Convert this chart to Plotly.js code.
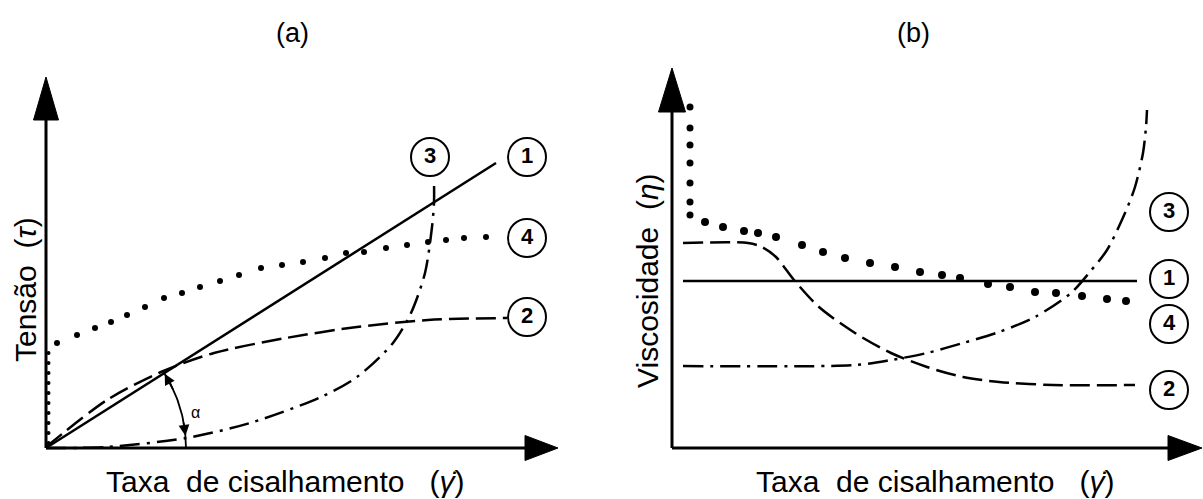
<!DOCTYPE html>
<html>
<head>
<meta charset="utf-8">
<script src="https://cdn.plot.ly/plotly-3.0.1.min.js"></script>
<style>html,body{margin:0;padding:0;background:#fff;}#chart{width:1203px;height:499px;}</style>
</head>
<body>
<div id="chart"></div>
<script>
// ---------- DATA (abstract units) ----------
// Panel (a): shear stress vs shear rate
const a1_x = [0, 9.0];
const a1_y = [0, 5.7];
const a2_x = [0, 1.22, 2.30, 3.36, 4.80, 6.22, 7.64, 9.22];
const a2_y = [0.02, 0.96, 1.52, 1.90, 2.20, 2.42, 2.56, 2.60];
const a3_x = [0, 1.22, 2.80, 4.08, 5.50, 6.22, 6.94, 7.30, 7.58, 7.72, 7.76, 7.76];
const a3_y = [0, 0.02, 0.20, 0.50, 1.02, 1.42, 2.10, 2.70, 3.50, 4.42, 4.90, 5.36];
const a4v_x = [0.05, 0.05, 0.05, 0.05, 0.05, 0.05, 0.05, 0.05, 0.05, 0.05];
const a4v_y = [0.1, 0.3, 0.5, 0.7, 0.9, 1.1, 1.3, 1.5, 1.7, 1.9];
const a4_x = [0.22, 0.62, 0.98, 1.30, 1.62, 1.98, 2.36, 2.72, 3.08, 3.48, 3.86, 4.30, 4.72, 5.14, 5.58, 6.00, 6.36, 6.80, 7.22, 7.64, 8.00, 8.36, 8.80];
const a4_y = [2.10, 2.26, 2.40, 2.52, 2.66, 2.82, 3.00, 3.10, 3.22, 3.34, 3.46, 3.60, 3.66, 3.72, 3.80, 3.90, 3.92, 4.00, 4.06, 4.12, 4.16, 4.20, 4.22];
const a_labels = ["3", "1", "4", "2"];
const a_lab_x = [7.68, 9.62, 9.62, 9.62];
const a_lab_y = [5.82, 5.82, 4.20, 2.62];

// Panel (b): viscosity vs shear rate
const b1_x = [0.22, 9.30];
const b1_y = [3.34, 3.34];
const b2_x = [0.22, 1.52, 1.80, 2.08, 2.44, 2.94, 3.66, 4.38, 5.10, 5.82, 6.54, 7.62, 9.26];
const b2_y = [4.10, 4.10, 4.02, 3.82, 3.36, 2.82, 2.30, 1.90, 1.62, 1.42, 1.32, 1.26, 1.26];
const b3_x = [0.22, 3.66, 4.38, 5.10, 5.82, 6.54, 7.26, 7.98, 8.34, 8.70, 9.06, 9.26, 9.42, 9.48, 9.50];
const b3_y = [1.64, 1.66, 1.76, 1.90, 2.10, 2.32, 2.62, 3.10, 3.50, 3.96, 4.70, 5.22, 5.90, 6.42, 6.76];
const b4v_x = [0.36, 0.36, 0.36, 0.36, 0.36, 0.36, 0.36];
const b4v_y = [6.82, 6.40, 6.06, 5.70, 5.30, 4.92, 4.66];
const b4_x = [0.66, 1.02, 1.44, 1.72, 2.08, 2.60, 3.02, 3.46, 3.96, 4.46, 4.96, 5.40, 5.76, 6.32, 6.76, 7.26, 7.68, 8.20, 8.70, 9.08];
const b4_y = [4.52, 4.42, 4.34, 4.30, 4.22, 4.06, 3.92, 3.80, 3.70, 3.62, 3.52, 3.46, 3.40, 3.28, 3.22, 3.12, 3.10, 3.04, 2.98, 2.94];
const b_labels = ["3", "1", "4", "2"];
const b_lab_x = [9.94, 9.94, 9.94, 9.94];
const b_lab_y = [4.72, 3.38, 2.48, 1.16];

const titles = ["(a)", "(b)"];
const xTitle = "Taxa  de cisalhamento   (<i>γ̇</i>)";
const yTitleA = "Tensão  (<i>τ</i>)";
const yTitleB = "Viscosidade  (<i>η</i>)";
const alphaLabel = "α";

// ---------- GEOMETRY / STYLE ----------
const W = 1203, H = 499, PX = 50;
const originA = 46, originB = 672, originY = 448, split = 600;
const FONT = "Liberation Sans, Arial, sans-serif";
const BLACK = "#000";
const dashLong = "20px,7px";
const dashDot = "20px,7px,3px,7px";

function line(x, y, xa, dash, w) {
  return {x, y, xaxis: xa, yaxis: "y", type: "scatter", mode: "lines",
    line: {color: BLACK, width: w || 2.5, dash: dash || "solid", shape: "spline", smoothing: 0.8},
    hoverinfo: "skip", cliponaxis: false};
}
function dots(x, y, xa, size) {
  return {x, y, xaxis: xa, yaxis: "y", type: "scatter", mode: "markers",
    marker: {color: BLACK, size: size, line: {width: 0}}, hoverinfo: "skip", cliponaxis: false};
}
function circled(x, y, t, xa) {
  return {x, y, text: t, xaxis: xa, yaxis: "y", type: "scatter", mode: "markers+text",
    textposition: "middle center",
    textfont: {family: FONT, size: 22, color: BLACK, weight: "bold"},
    marker: {symbol: "circle-open", size: 38, color: BLACK, line: {width: 2, color: BLACK}},
    hoverinfo: "skip", cliponaxis: false};
}

// angle arc (panel a)
const arcR = 2.8, arcA0 = 0, arcA1 = 33;
const arcX = [], arcY = [];
for (let a = arcA0; a <= arcA1; a += 1) {
  arcX.push(arcR * Math.cos(a * Math.PI / 180));
  arcY.push(arcR * Math.sin(a * Math.PI / 180));
}

const traces = [
  line(a1_x, a1_y, "x", "solid", 2.5),
  line(a2_x, a2_y, "x", dashLong, 2.5),
  line(a3_x, a3_y, "x", dashDot, 2.5),
  dots(a4v_x, a4v_y, "x", 4),
  dots(a4_x, a4_y, "x", 6),
  {x: arcX, y: arcY, xaxis: "x", yaxis: "y", type: "scatter", mode: "lines",
   line: {color: BLACK, width: 1.8}, hoverinfo: "skip", cliponaxis: false},
  circled(a_lab_x, a_lab_y, a_labels, "x"),
  line(b1_x, b1_y, "x2", "solid", 2.5),
  line(b2_x, b2_y, "x2", dashLong, 2.5),
  line(b3_x, b3_y, "x2", dashDot, 2.5),
  dots(b4v_x, b4v_y, "x2", 7),
  dots(b4_x, b4_y, "x2", 8),
  circled(b_lab_x, b_lab_y, b_labels, "x2")
];

// axes with arrowheads
function axisShapes(xr, yTip, yBase, yHalf, xTip, xBase, xHalf) {
  return [
    {type: "line", xref: xr, yref: "y", x0: 0, y0: 0, x1: 0, y1: yBase, line: {color: BLACK, width: 3}},
    {type: "line", xref: xr, yref: "y", x0: 0, y0: 0, x1: xBase, y1: 0, line: {color: BLACK, width: 3}},
    {type: "path", xref: xr, yref: "y", fillcolor: BLACK, line: {color: BLACK, width: 1},
     path: `M ${-yHalf} ${yBase} L ${yHalf} ${yBase} L 0 ${yTip} Z`},
    {type: "path", xref: xr, yref: "y", fillcolor: BLACK, line: {color: BLACK, width: 1},
     path: `M ${xBase} ${-xHalf} L ${xBase} ${xHalf} L ${xTip} 0 Z`}
  ];
}
const shapes = [].concat(
  axisShapes("x", (originY - 77) / PX, (originY - 120) / PX, 0.25, (558 - originA) / PX, (525 - originA) / PX, 0.25),
  axisShapes("x2", (originY - 68) / PX, (originY - 112) / PX, 0.27, (1202 - originB) / PX, (1168 - originB) / PX, 0.25)
);

function ann(text, x, y, size, angle) {
  return {text, x: x / W, y: 1 - y / H, xref: "paper", yref: "paper", showarrow: false,
    xanchor: "center", yanchor: "middle", textangle: angle || 0,
    font: {family: FONT, size: size, color: BLACK}};
}
const annotations = [
  ann(titles[0], 292, 33, 27),
  ann(titles[1], 913, 33, 27),
  ann(xTitle, 285, 481, 30),
  ann(xTitle, 936, 481, 30),
  ann(yTitleA, 25, 290, 30, -90),
  ann(yTitleB, 647, 281, 30, -90),
  {text: alphaLabel, x: 2.98, y: 0.72, xref: "x", yref: "y", showarrow: false,
   font: {family: FONT, size: 16, color: BLACK}},
  {text: "", x: arcR * Math.cos(32 * Math.PI / 180), y: arcR * Math.sin(32 * Math.PI / 180),
   ax: arcR * Math.cos(24 * Math.PI / 180), ay: arcR * Math.sin(24 * Math.PI / 180),
   xref: "x", yref: "y", axref: "x", ayref: "y", showarrow: true, arrowhead: 2, arrowsize: 1.2, arrowwidth: 1.8, arrowcolor: BLACK},
  {text: "", x: arcR * Math.cos(5 * Math.PI / 180), y: arcR * Math.sin(5 * Math.PI / 180),
   ax: arcR * Math.cos(11 * Math.PI / 180), ay: arcR * Math.sin(11 * Math.PI / 180),
   xref: "x", yref: "y", axref: "x", ayref: "y", showarrow: true, arrowhead: 2, arrowsize: 1.2, arrowwidth: 1.8, arrowcolor: BLACK}
];

const layout = {
  width: W, height: H, margin: {l: 0, r: 0, t: 0, b: 0},
  paper_bgcolor: "#fff", plot_bgcolor: "rgba(0,0,0,0)", showlegend: false,
  xaxis: {domain: [0, split / W], range: [-originA / PX, (split - originA) / PX], visible: false, fixedrange: true},
  xaxis2: {domain: [split / W, 1], range: [(split - originB) / PX, (W - originB) / PX], anchor: "y", visible: false, fixedrange: true},
  yaxis: {domain: [0, 1], range: [-(H - originY) / PX, originY / PX], visible: false, fixedrange: true},
  shapes, annotations
};

Plotly.newPlot("chart", traces, layout, {staticPlot: true, displayModeBar: false});
</script>
</body>
</html>
